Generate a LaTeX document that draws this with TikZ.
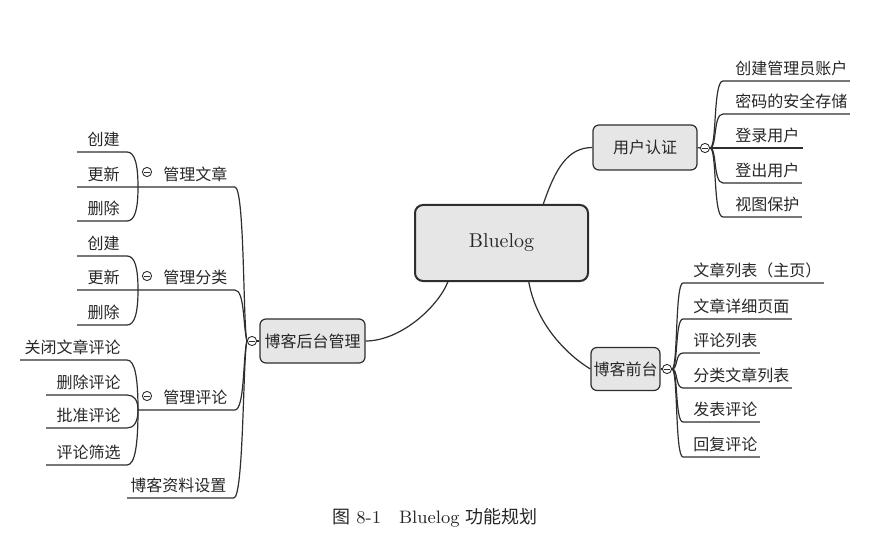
\documentclass[tikz,border=0pt]{standalone}
\usepackage{fontspec}
\newfontfamily\cjk{Noto Sans CJK SC}
\usepackage{xcolor}
\definecolor{boxgray}{HTML}{E6E6E6}
\definecolor{linegray}{HTML}{2E2E2E}

\begin{document}
\begin{tikzpicture}[x=0.5pt,y=-0.5pt,
  topic/.style={draw=linegray,fill=boxgray,rounded corners=3pt,line width=0.6pt,
    inner sep=0pt,text=black!85,font=\cjk\fontsize{8}{10}\selectfont},
  leaf/.style={inner sep=0pt,text height=6pt,text depth=3pt,text=black!85,
    font=\cjk\fontsize{8}{10}\selectfont},
  fold/.style={circle,draw=linegray,line width=0.45pt,minimum size=4.6pt,inner sep=0pt,fill=white,
    path picture={\draw[line width=0.45pt] ([xshift=1pt]path picture bounding box.west)
      -- ([xshift=-1pt]path picture bounding box.east);}},
  branch/.style={draw=linegray,line width=0.6pt}]
\useasboundingbox (0,0) rectangle (890,551);

% centre and main topics
\node[topic,line width=1pt,rounded corners=4pt,minimum width=86.5pt,minimum height=38pt,
  font=\fontsize{10}{12}\selectfont] (blog) at (501.5,243) {Bluelog};
\node[topic,minimum width=52pt,minimum height=22.5pt] (auth) at (645,147.5) {用户认证};
\node[topic,minimum width=34.5pt,minimum height=21.5pt] (front) at (625.5,369) {博客前台};
\node[topic,minimum width=52.5pt,minimum height=22pt] (admin) at (312.5,341) {博客后台管理};

\node[fold] (fa) at (705,148) {};
\node[fold] (ff) at (667,369) {};
\node[fold] (fm) at (252,341) {};

\draw[branch] (blog.43) .. controls +(12,-35) and +(-25,0) .. (auth.west);
\draw[branch] (blog.-55) .. controls +(8,45) and +(-20,-12) .. (front.west);
\draw[branch] (admin.east) .. controls +(35,0) and +(-10,25) .. (blog.216);
\draw[branch] (auth.east) -- (fa.west);
\draw[branch] (front.east) -- (ff.west);
\draw[branch] (admin.west) -- (fm.east);

% user authentication
\node[leaf,anchor=south west] (a1) at (735,81) {创建管理员账户};
\node[leaf,anchor=south west] (a2) at (735,114) {密码的安全存储};
\node[leaf,anchor=south west] (a3) at (735,148) {登录用户};
\node[leaf,anchor=south west] (a4) at (735,183) {登出用户};
\node[leaf,anchor=south west] (a5) at (735,217) {视图保护};
\foreach \n in {a1,a2,a4,a5}
  \draw[branch] (fa.east) .. controls +(7,0) and +(-10,0) .. ([xshift=-6pt]\n.south west)
    -- ([xshift=1pt]\n.south east);
\draw[branch] (fa.east) -- ([xshift=1.5pt]a3.south east);

% blog front
\node[leaf,anchor=south west] (q1) at (693,283) {文章列表（主页）};
\node[leaf,anchor=south west] (q2) at (693,319) {文章详细页面};
\node[leaf,anchor=south west] (q3) at (693,353) {评论列表};
\node[leaf,anchor=south west] (q4) at (693,388) {分类文章列表};
\node[leaf,anchor=south west] (q5) at (693,422) {发表评论};
\node[leaf,anchor=south west] (q6) at (693,457) {回复评论};
\foreach \n in {q1,q2,q3,q4,q5,q6}
  \draw[branch] (ff.east) .. controls +(6,0) and +(-8,0) .. ([xshift=-5pt]\n.south west)
    -- ([xshift=1pt]\n.south east);

% blog admin
\node[leaf,anchor=south west] (m1) at (163,187) {管理文章};
\node[leaf,anchor=south west] (m2) at (163,290) {管理分类};
\node[leaf,anchor=south west] (m3) at (163,410) {管理评论};
\node[leaf,anchor=south west] (m4) at (130,498) {博客资料设置};
\node[fold] (f1) at (147,172) {};
\node[fold] (f2) at (147,276) {};
\node[fold] (f3) at (147,396) {};
\coordinate (k1) at ([xshift=-12.5pt]m1.south west);
\coordinate (k2) at ([xshift=-12.5pt]m2.south west);
\coordinate (k3) at ([xshift=-12.5pt]m3.south west);

\node[leaf,anchor=south east] (c11) at (120,152) {创建};
\node[leaf,anchor=south east] (c12) at (120,187) {更新};
\node[leaf,anchor=south east] (c13) at (120,221) {删除};
\node[leaf,anchor=south east] (c21) at (120,256) {创建};
\node[leaf,anchor=south east] (c22) at (120,290) {更新};
\node[leaf,anchor=south east] (c23) at (120,325) {删除};
\node[leaf,anchor=south east] (c31) at (121,360) {关闭文章评论};
\node[leaf,anchor=south east] (c32) at (121,395) {删除评论};
\node[leaf,anchor=south east] (c33) at (121,428) {批准评论};
\node[leaf,anchor=south east] (c34) at (121,465) {评论筛选};

\draw[branch] (fm.west) .. controls +(-4,-15) and +(10,0) .. ([xshift=3.5pt]m1.south east)
  -- ([xshift=-5pt]c12.south west);
\draw[branch] (fm.west) .. controls +(-4,-15) and +(10,0) .. ([xshift=3.5pt]m2.south east)
  -- ([xshift=-5pt]c22.south west);
\draw[branch] (fm.west) .. controls +(-4,15) and +(10,0) .. ([xshift=3.5pt]m3.south east)
  -- (k3);
\draw[branch] (fm.west) .. controls +(-4,15) and +(10,0) .. ([xshift=3.5pt]m4.south east)
  -- ([xshift=-1.5pt]m4.south west);

\draw[branch] (k1) .. controls +(0,-22) and +(8,0) .. ([xshift=3.5pt]c11.south east)
  -- ([xshift=-5pt]c11.south west);
\draw[branch] (k1) .. controls +(0,22) and +(8,0) .. ([xshift=3.5pt]c13.south east)
  -- ([xshift=-5pt]c13.south west);
\draw[branch] (k2) .. controls +(0,-22) and +(8,0) .. ([xshift=3.5pt]c21.south east)
  -- ([xshift=-5pt]c21.south west);
\draw[branch] (k2) .. controls +(0,22) and +(8,0) .. ([xshift=3.5pt]c23.south east)
  -- ([xshift=-5pt]c23.south west);
\draw[branch] (k3) .. controls +(0,-32) and +(8,0) .. ([xshift=3pt]c31.south east)
  -- ([xshift=-2pt]c31.south west);
\draw[branch] (k3) .. controls +(0,-10) and +(7,0) .. ([xshift=3pt]c32.south east)
  -- ([xshift=-5pt]c32.south west);
\draw[branch] (k3) .. controls +(0,12) and +(7,0) .. ([xshift=3pt]c33.south east)
  -- ([xshift=-5pt]c33.south west);
\draw[branch] (k3) .. controls +(0,35) and +(8,0) .. ([xshift=3pt]c34.south east)
  -- ([xshift=-5pt]c34.south west);

% caption
\node[text=black!85,font=\fontsize{9}{11}\selectfont] (cap) at (435,518)
  {{\cjk 图}~8-1\quad Bluelog {\cjk 功能规划}};
\end{tikzpicture}
\end{document}
